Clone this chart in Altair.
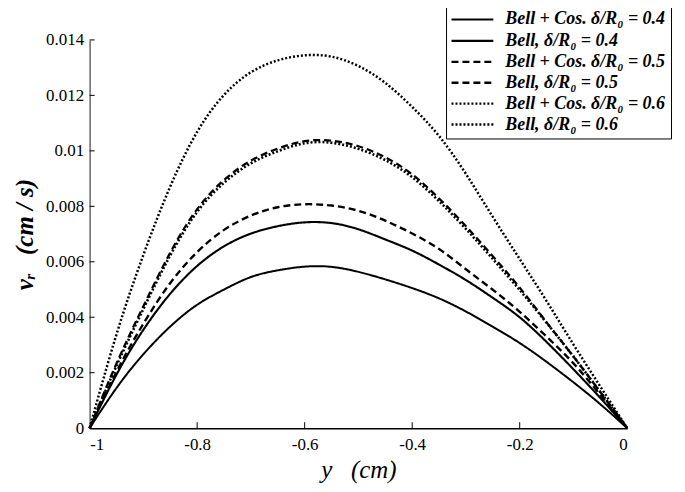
import altair as alt
import pandas as pd

# x positions (cm)
y_cm = [-1.0, -0.95, -0.9, -0.85, -0.8, -0.75, -0.7, -0.65, -0.6, -0.55, -0.5,
        -0.45, -0.4, -0.35, -0.3, -0.25, -0.2, -0.15, -0.1, -0.05, 0.0]

# velocity profiles v_r (cm/s)
bell_cos_04 = [0, 0.0015, 0.0027, 0.0037, 0.0045, 0.0050, 0.0055, 0.0057, 0.00585, 0.00585, 0.00565,
               0.00537, 0.00506, 0.0047, 0.00422, 0.00366, 0.00309, 0.0024, 0.00166, 0.00088, 0]
bell_04 = [0, 0.0020, 0.0036, 0.0049, 0.0059, 0.0066, 0.00705, 0.0073, 0.00745, 0.00743, 0.0072,
           0.0068, 0.00643, 0.0059, 0.00536, 0.0047, 0.00404, 0.00312, 0.00213, 0.0011, 0]
bell_cos_05 = [0, 0.0024, 0.0044, 0.0064, 0.0080, 0.0090, 0.0097, 0.0101, 0.0104, 0.0104, 0.0102,
               0.0098, 0.0092, 0.0083, 0.0073, 0.0062, 0.0051, 0.0038, 0.0026, 0.0013, 0]
bell_05 = [0, 0.0021, 0.0038, 0.0053, 0.0064, 0.0072, 0.0077, 0.0080, 0.0081, 0.00805, 0.00787,
           0.0075, 0.00703, 0.0065, 0.00572, 0.0050, 0.00422, 0.0033, 0.00238, 0.0012, 0]
bell_cos_06 = [0, 0.0035, 0.0063, 0.0088, 0.0108, 0.0121, 0.0129, 0.0133, 0.01348, 0.01345, 0.0131,
               0.0125, 0.0116, 0.0106, 0.0092, 0.0076, 0.0061, 0.0046, 0.0030, 0.0015, 0]
bell_06 = [0, 0.0023, 0.0043, 0.0063, 0.0079, 0.0089, 0.0096, 0.0100, 0.01033, 0.01033, 0.0101,
           0.0097, 0.0091, 0.0082, 0.0072, 0.0061, 0.0050, 0.0038, 0.0026, 0.0013, 0]

series_names = [
    "Bell + Cos. δ/R₀ = 0.4",
    "Bell, δ/R₀ = 0.4",
    "Bell + Cos. δ/R₀ = 0.5",
    "Bell, δ/R₀ = 0.5",
    "Bell + Cos. δ/R₀ = 0.6",
    "Bell, δ/R₀ = 0.6",
]
series_values = [bell_cos_04, bell_04, bell_cos_05, bell_05, bell_cos_06, bell_06]

x_ticks = [-1, -0.8, -0.6, -0.4, -0.2, 0]
y_ticks = [0, 0.002, 0.004, 0.006, 0.008, 0.01, 0.012, 0.014]

rows = []
for name, vals in zip(series_names, series_values):
    for xv, vv in zip(y_cm, vals):
        rows.append({"y_cm": xv, "vr": vv, "series": name})
df = pd.DataFrame(rows)

FONT = "Liberation Serif"
NB = "\u00a0"

xscale = alt.Scale(domain=[-1, 0], nice=False, zero=False)
yscale = alt.Scale(domain=[0, 0.014], nice=False)

xaxis = alt.Axis(
    values=x_ticks,
    labelExpr="datum.value == 0 ? '0' : (datum.value == -1 ? '-1' : '-' + format(-datum.value, '.1f'))",
    ticks=False, grid=False, domainColor="black", domainWidth=1.5,
    labelFont=FONT, labelFontSize=17, labelColor="black", labelPadding=8,
    title="y" + NB * 3 + "(cm)", titleFont=FONT, titleFontSize=25, titleFontStyle="italic",
    titleFontWeight="normal", titleColor="black", titlePadding=6,
)
yaxis = alt.Axis(
    values=y_ticks, format="~g",
    ticks=False, grid=False, domainColor="#666666", domainWidth=1.5,
    labelFont=FONT, labelFontSize=17, labelColor="black", labelPadding=6,
    title="vᵣ" + NB * 3 + "(cm / s)", titleFont=FONT, titleFontSize=25, titleFontStyle="italic",
    titleFontWeight="bold", titleColor="black", titlePadding=8,
)

dash_range = [[1, 0], [1, 0], [7, 4], [7, 4], [2, 2], [2, 2]]
width_range = [2, 2.6, 2.4, 2.4, 2.2, 2.2]

legend = alt.Legend(
    title=None, orient="none", legendX=358, legendY=-37,
    symbolType="M-2,0L2,0", symbolSize=441, symbolStrokeColor="black",
    symbolOffset=9.5, labelOffset=21,
    labelFont=FONT, labelFontSize=18, labelFontStyle="italic", labelFontWeight="bold",
    labelColor="black", labelLimit=300, rowPadding=-2, padding=5, strokeColor="black",
    fillColor="white",
)

lines = alt.Chart(df).mark_line(interpolate="basis", color="black", strokeCap="butt").encode(
    x=alt.X("y_cm:Q", scale=xscale, axis=xaxis),
    y=alt.Y("vr:Q", scale=yscale, axis=yaxis),
    detail="series:N",
    strokeDash=alt.StrokeDash(
        "series:N",
        scale=alt.Scale(domain=series_names, range=dash_range),
        legend=legend,
    ),
    strokeWidth=alt.StrokeWidth(
        "series:N",
        scale=alt.Scale(domain=series_names, range=width_range),
        legend=legend,
    ),
)

ytick_df = pd.DataFrame({"vr": y_ticks[1:]})
ytick_layer = alt.Chart(ytick_df).mark_rule(color="black", strokeWidth=1).encode(
    y=alt.Y("vr:Q", scale=yscale, axis=yaxis),
    x=alt.value(0),
    x2=alt.value(5),
)
xtick_df = pd.DataFrame({"y_cm": x_ticks[1:-1]})
xtick_layer = alt.Chart(xtick_df).mark_rule(color="black", strokeWidth=1).encode(
    x=alt.X("y_cm:Q", scale=xscale, axis=xaxis),
    y=alt.value(390),
    y2=alt.value(384),
)

chart = alt.layer(lines, ytick_layer, xtick_layer).properties(
    width=540, height=390,
    autosize=alt.AutoSizeParams(type="none"),
    padding={"left": 82, "top": 31, "right": 50, "bottom": 55},
    background="white",
).configure_view(stroke=None)

chart.save("out.html", embed_options={"renderer": "svg", "actions": False})
